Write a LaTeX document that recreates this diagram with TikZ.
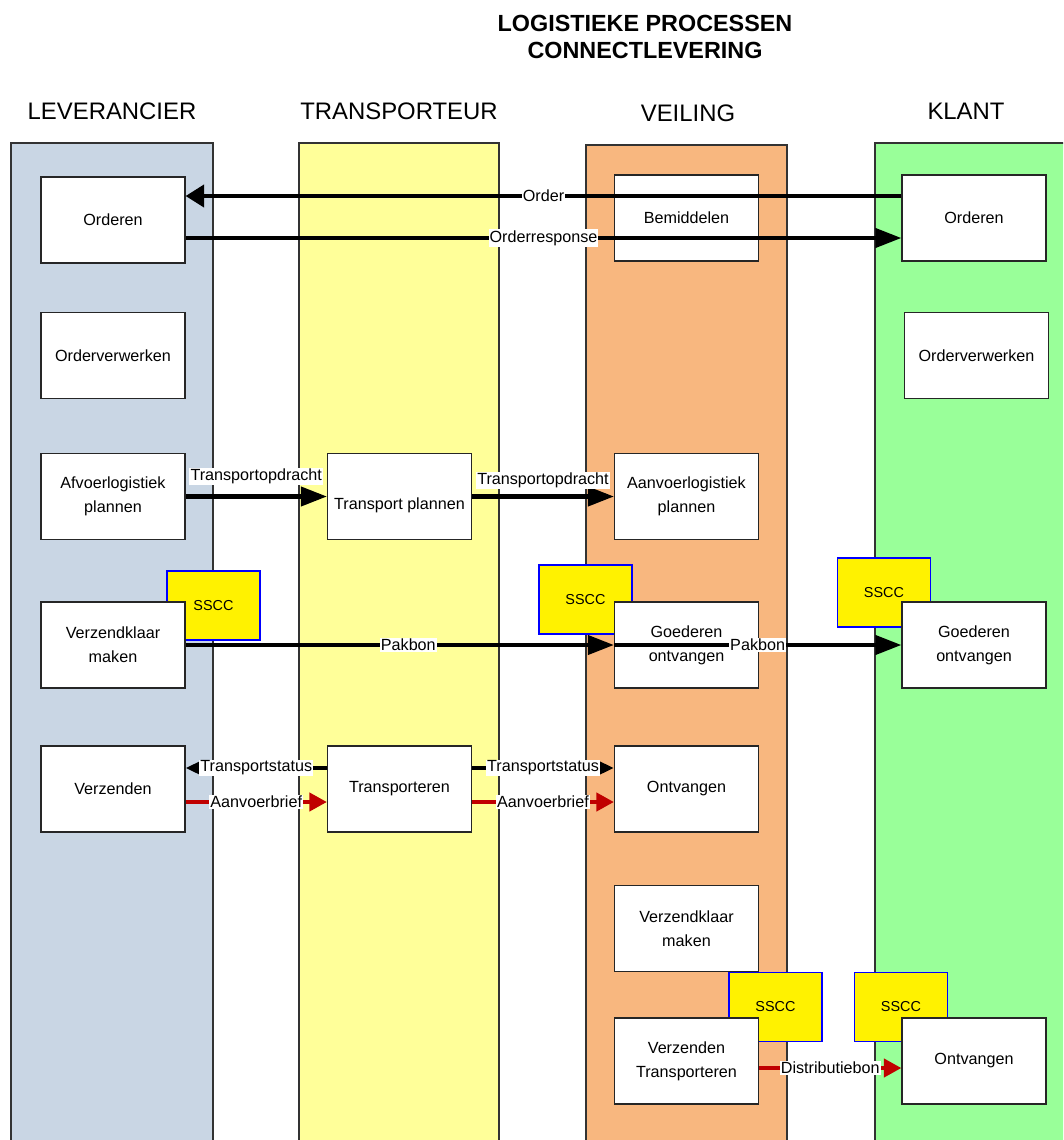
\documentclass[tikz,border=0pt]{standalone}
\usepackage{fontspec}
\setmainfont{Liberation Sans}
\usetikzlibrary{arrows.meta,calc}
\definecolor{levblue}{RGB}{201,214,228}
\definecolor{transyellow}{RGB}{255,255,153}
\definecolor{veilorange}{RGB}{248,183,127}
\definecolor{klantgreen}{RGB}{153,255,153}
\definecolor{msgred}{RGB}{192,0,0}
\newcommand\procfont{\fontsize{9.2}{13.6}\selectfont}
\begin{document}
\begin{tikzpicture}[x=0.02cm,y=-0.02cm,
    lane/.style={draw=black!80,line width=0.6pt},
    proc/.style={draw=black!85,fill=white,line width=0.7pt,minimum width=2.88cm,
        minimum height=1.72cm,align=center,font=\procfont,inner sep=1pt},
    sscc/.style={draw=blue,fill=yellow,line width=0.6pt,minimum width=1.86cm,
        minimum height=1.38cm,font=\fontsize{8.2}{10}\selectfont},
    msg/.style={line width=2.3pt},
    bigarrow/.style={msg,-{Triangle[length=0.52cm,width=0.38cm]}},
    smallarrow/.style={msg,-{Triangle[length=0.3cm,width=0.26cm]}},
    redarrow/.style={msg,msgred,-{Triangle[length=0.35cm,width=0.36cm]}},
    lbl/.style={fill=white,text=black,inner sep=0.6pt,font=\fontsize{9.2}{11}\selectfont}]
    \useasboundingbox (0,0) rectangle (1063,1140);
    \clip (0,0) rectangle (1063,1140);
    % titles
    \node[align=center,font=\fontsize{13.3}{15.3}\bfseries] (title) at (645,37)
        {LOGISTIEKE PROCESSEN\\CONNECTLEVERING};
    \node[font=\fontsize{13.6}{16}\selectfont] (tlev) at (112,111) {LEVERANCIER};
    \node[font=\fontsize{13.6}{16}\selectfont] (ttra) at (399,111) {TRANSPORTEUR};
    \node[font=\fontsize{13.6}{16}\selectfont] (tvei) at (688,113) {VEILING};
    \node[font=\fontsize{13.6}{16}\selectfont] (tkla) at (966,111) {KLANT};
    % swimlanes
    \draw[lane,fill=levblue]     (11,143) rectangle (213,1150);
    \draw[lane,fill=transyellow] (299,143) rectangle (499,1150);
    \draw[lane,fill=veilorange]  (586,145) rectangle (787,1150);
    \draw[lane,fill=klantgreen]  (875,143) rectangle (1075,1150);
    % sscc labels
    \node[sscc] (sscca) at (213.5,605.5) {SSCC};
    \node[sscc] (ssccb) at (585.5,599.5) {SSCC};
    \node[sscc] (ssccc) at (884,592.5) {SSCC};
    \node[sscc] (ssccd) at (775.5,1007) {SSCC};
    \node[sscc] (sscce) at (901,1007) {SSCC};
    % leverancier
    \node[proc] (lorder)  at (113,220)   {Orderen};
    \node[proc] (lverw)   at (113,355.5) {Orderverwerken};
    \node[proc] (lafvoer) at (113,496.5) {Afvoerlogistiek\\plannen};
    \node[proc] (lklaar)  at (113,645)   {Verzendklaar\\maken};
    \node[proc] (lverz)   at (113,789)   {Verzenden};
    % transporteur
    \node[proc,label={[font=\procfont,yshift=-0.17cm]center:Transport plannen}] (tplan) at (399.5,496.5) {};
    \node[proc] (ttrans)  at (399.5,789) {Transporteren};
    % veiling
    \node[proc] (vbemid)  at (686.5,218)   {Bemiddelen};
    \node[proc] (vaanv)   at (686.5,496.5) {Aanvoerlogistiek\\plannen};
    \node[proc] (vgoed)   at (686.5,645)   {Goederen\\ontvangen};
    \node[proc] (vontv)   at (686.5,789)   {Ontvangen};
    \node[proc] (vklaar)  at (686.5,928.5) {Verzendklaar\\maken};
    \node[proc] (vverz)   at (686.5,1061)  {Verzenden\\Transporteren};
    % klant
    \node[proc] (korder)  at (974,218)     {Orderen};
    \node[proc] (kverw)   at (976.5,355.5) {Orderverwerken};
    \node[proc] (kgoed)   at (974,645)     {Goederen\\ontvangen};
    \node[proc] (kontv)   at (974,1061)    {Ontvangen};
    % messages
    \draw[msg,-{Triangle[length=0.37cm,width=0.44cm]}] ($(korder.west)+(0,-22)$) coordinate (ord)
        -- node[lbl] {Order} (ord -| lorder.east);
    \draw[bigarrow] ($(lorder.east)+(0,18)$) coordinate (ordr)
        -- node[lbl] {Orderresponse} (ordr -| korder.west);
    \draw[bigarrow] (lafvoer.east) -- node[lbl,above=0.19cm] {Transportopdracht} (tplan.west);
    \draw[bigarrow] (tplan.east) -- node[lbl,above=0.11cm] {Transportopdracht} (vaanv.west);
    \draw[bigarrow] (lklaar.east) -- node[lbl,pos=0.52] {Pakbon} (vgoed.west);
    \draw[bigarrow] (vgoed.west) -- node[lbl] {Pakbon} (kgoed.west);
    \draw[smallarrow] ($(ttrans.west)+(0,-21)$) coordinate (sta)
        -- node[lbl] {Transportstatus} (sta -| lverz.east);
    \draw[smallarrow] ($(ttrans.east)+(0,-21)$) coordinate (stb)
        -- node[lbl] {Transportstatus} (stb -| vontv.west);
    \draw[redarrow] ($(lverz.east)+(0,13)$) coordinate (aba)
        -- node[lbl] {Aanvoerbrief} (aba -| ttrans.west);
    \draw[redarrow] ($(ttrans.east)+(0,13)$) coordinate (abb)
        -- node[lbl] {Aanvoerbrief} (abb -| vontv.west);
    \draw[redarrow] ($(vverz.east)+(0,7)$) coordinate (dist)
        -- node[lbl] {Distributiebon} (dist -| kontv.west);
\end{tikzpicture}
\end{document}
